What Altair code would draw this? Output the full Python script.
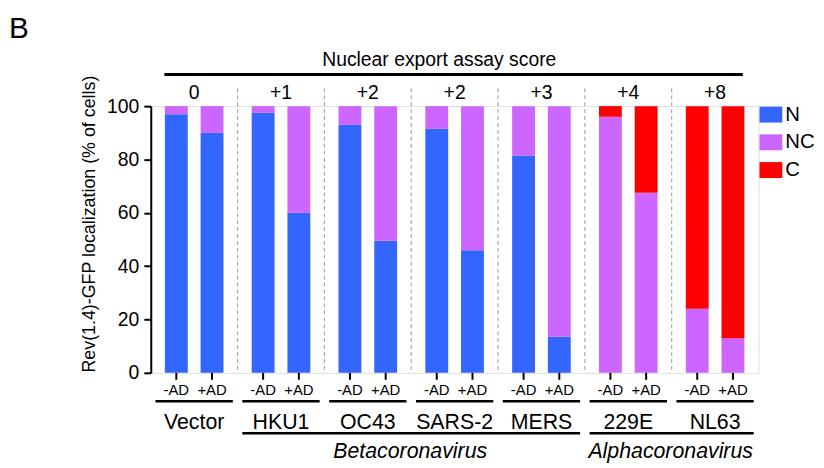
import altair as alt
import pandas as pd

# ---------------- data ----------------
viruses = ["Vector", "HKU1", "OC43", "SARS-2", "MERS", "229E", "NL63"]
conditions = ["-AD", "+AD"]
scores = ["0", "+1", "+2", "+2", "+3", "+4", "+8"]
categories = ["N", "NC", "C"]
colors = ["#3366FF", "#CC66FF", "#FF0000"]

n_minus = [97, 97.5, 93, 91.5, 81.5, 0, 0]
n_plus = [90, 60, 49.5, 46, 13.5, 0, 0]
nc_minus = [3, 2.5, 7, 8.5, 18.5, 96, 24]
nc_plus = [10, 40, 50.5, 54, 86.5, 67.5, 13]
c_minus = [0, 0, 0, 0, 0, 4, 76]
c_plus = [0, 0, 0, 0, 0, 32.5, 87]

families = ["Betacoronavirus", "Alphacoronavirus"]
family_start = ["HKU1", "229E"]
family_end = ["MERS", "NL63"]

y_title = "Rev(1.4)-GFP localization (% of cells)"
top_title = "Nuclear export assay score"
panel_letter = "B"

# ---------------- tables ----------------
rows = []
series = {
    ("N", "-AD"): n_minus, ("N", "+AD"): n_plus,
    ("NC", "-AD"): nc_minus, ("NC", "+AD"): nc_plus,
    ("C", "-AD"): c_minus, ("C", "+AD"): c_plus,
}
for (cat, cond), vals in series.items():
    for v, val in zip(viruses, vals):
        rows.append({"virus": v, "cond": cond, "cat": cat,
                     "ord": categories.index(cat), "value": val})
df_bars = pd.DataFrame(rows)

df_cond = pd.DataFrame([{"virus": v, "cond": c} for v in viruses for c in conditions])
df_virus = pd.DataFrame({"virus": viruses, "score": scores})
df_sep = pd.DataFrame({"virus": viruses[1:]})

# family label anchor: the band boundary midway between first and last group
fam_rows = []
for f, s, e in zip(families, family_start, family_end):
    mid = (viruses.index(s) + viruses.index(e) + 1) / 2.0
    fam_rows.append({"fam": f, "start": s, "end": e,
                     "anchor": viruses[int(mid)], "bp": mid - int(mid)})
df_fam = pd.DataFrame(fam_rows)
df_top = pd.DataFrame({"start": [viruses[0]], "end": [viruses[-1]]})

W, H = 613, 269
FONT = "Liberation Sans"

x_scale = alt.Scale(domain=viruses, paddingInner=0, paddingOuter=0)
xo_scale = alt.Scale(domain=conditions, paddingInner=0.36, paddingOuter=0.395)

rect_path = "M-1,-0.7L1,-0.7L1,0.7L-1,0.7Z"

bars = alt.Chart(df_bars).mark_bar().encode(
    x=alt.X("virus:N", scale=x_scale, title=None,
            axis=alt.Axis(labels=False, ticks=False, domainWidth=2,
                          domainColor="black", title=None)),
    xOffset=alt.XOffset("cond:N", scale=xo_scale),
    y=alt.Y("value:Q", stack="zero", scale=alt.Scale(domain=[0, 100], nice=False),
            axis=alt.Axis(values=[0, 20, 40, 60, 80, 100], title=None, grid=False,
                          domainWidth=2, tickWidth=2, tickSize=7,
                          labelFontSize=19.5, labelPadding=5, labelFont=FONT,
                          domainColor="black", tickColor="black",
                          labelColor="black")),
    color=alt.Color("cat:N", scale=alt.Scale(domain=categories, range=colors),
                    legend=alt.Legend(title=None, orient="none", legendX=614,
                                      legendY=-3, symbolType=rect_path,
                                      symbolSize=529, symbolStrokeWidth=0,
                                      symbolOpacity=1,
                                      labelFontSize=20.5, labelFont=FONT,
                                      labelColor="black", labelOffset=3,
                                      rowPadding=6, padding=0)),
    order=alt.Order("ord:Q"),
)

cond_ticks = alt.Chart(df_cond).mark_rule(color="black", strokeWidth=2).encode(
    x=alt.X("virus:N", scale=x_scale, axis=None),
    xOffset=alt.XOffset("cond:N", scale=xo_scale),
    y=alt.value(H), y2=alt.value(H + 7),
)

cond_labels = alt.Chart(df_cond).mark_text(
    fontSize=15, font=FONT, color="black", baseline="alphabetic", align="center"
).encode(
    x=alt.X("virus:N", scale=x_scale, axis=None),
    xOffset=alt.XOffset("cond:N", scale=xo_scale),
    y=alt.value(H + 22.7),
    text="cond:N",
)

group_lines = alt.Chart(df_virus).mark_tick(
    orient="horizontal", size=78, thickness=2.5, color="black", opacity=1
).encode(
    x=alt.X("virus:N", scale=x_scale, axis=None),
    y=alt.value(H + 28.7),
)

virus_labels = alt.Chart(df_virus).mark_text(
    fontSize=21.5, font=FONT, color="black", baseline="alphabetic", align="center"
).encode(
    x=alt.X("virus:N", scale=x_scale, axis=None),
    y=alt.value(H + 56.5),
    text="virus:N",
)

fam_lines = alt.Chart(df_fam).mark_rule(
    color="black", strokeWidth=2.5, xOffset=-39, x2Offset=39
).encode(
    x=alt.X("start:N", scale=x_scale, axis=None),
    x2="end:N",
    y=alt.value(H + 61),
)

fam_labels = alt.Chart(df_fam).mark_text(
    fontSize=21.5, font=FONT, fontStyle="italic", color="black",
    baseline="alphabetic", align="center", dx=-1
).encode(
    x=alt.X("anchor:N", scale=x_scale, axis=None, bandPosition=0),
    y=alt.value(H + 86),
    text="fam:N",
)

separators = alt.Chart(df_sep).mark_rule(
    color="#aaaaaa", strokeWidth=1.2, strokeDash=[4, 3]
).encode(
    x=alt.X("virus:N", scale=x_scale, axis=None, bandPosition=0),
    y=alt.value(-18), y2=alt.value(H),
)

score_labels = alt.Chart(df_virus).mark_text(
    fontSize=19.5, font=FONT, color="black", baseline="alphabetic", align="center"
).encode(
    x=alt.X("virus:N", scale=x_scale, axis=None),
    y=alt.value(-7.3),
    text="score:N",
)

top_line = alt.Chart(df_top).mark_rule(
    color="black", strokeWidth=3, xOffset=-30, x2Offset=28
).encode(
    x=alt.X("start:N", scale=x_scale, axis=None),
    x2="end:N",
    y=alt.value(-32),
)

top_text = alt.Chart(pd.DataFrame({"t": [top_title]})).mark_text(
    fontSize=19.5, font=FONT, color="black", baseline="alphabetic", align="center"
).encode(x=alt.value(291), y=alt.value(-40), text="t:N")

ytitle_text = alt.Chart(pd.DataFrame({"t": [y_title]})).mark_text(
    fontSize=18, font=FONT, color="black", baseline="middle", align="center",
    angle=270
).encode(x=alt.value(-61), y=alt.value(119), text="t:N")

letter = alt.Chart(pd.DataFrame({"t": [panel_letter]})).mark_text(
    fontSize=30, font=FONT, color="black", baseline="alphabetic", align="left"
).encode(x=alt.value(-143), y=alt.value(-69), text="t:N")

chart = alt.layer(
    separators, bars, cond_ticks, cond_labels, group_lines, virus_labels,
    fam_lines, fam_labels, score_labels, top_line, top_text, ytitle_text, letter
).properties(
    width=W, height=H,
    autosize=alt.AutoSizeParams(type="none"),
    padding={"left": 144, "top": 97, "right": 58, "bottom": 92},
).configure_view(stroke=None).configure(font=FONT)

chart.save("out.html", embed_options={"renderer": "svg", "actions": False})
